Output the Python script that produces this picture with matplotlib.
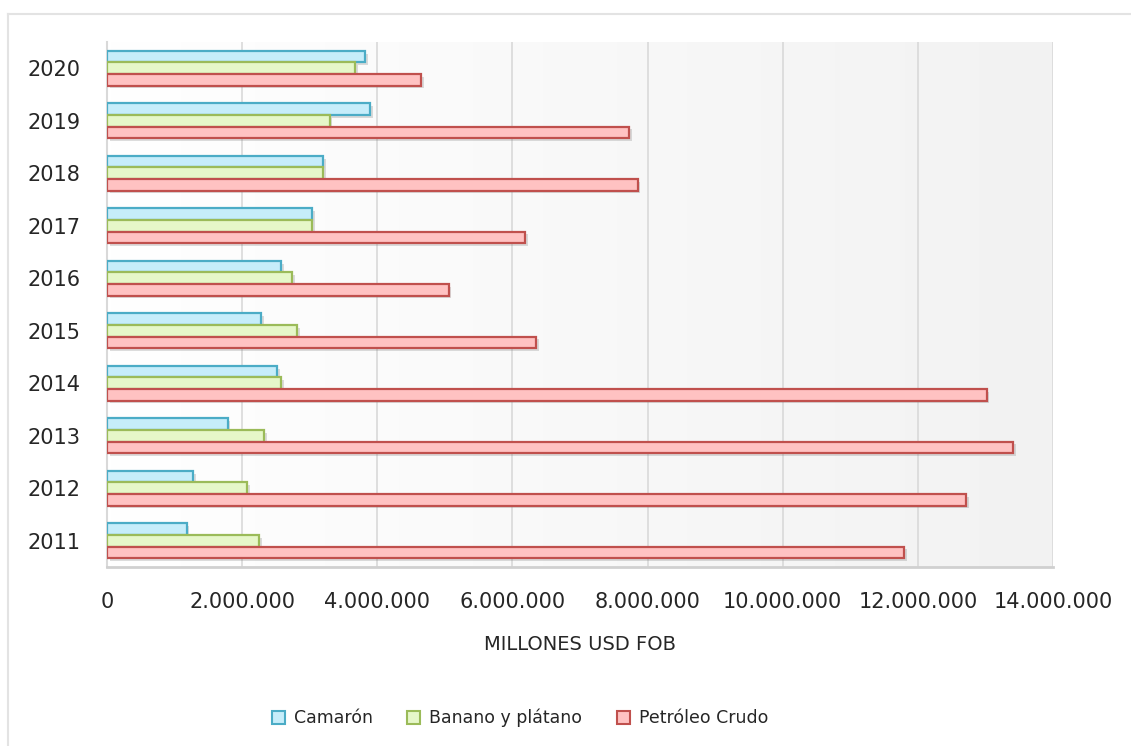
import numpy as np
import matplotlib.pyplot as plt
import matplotlib.patheffects as pe
from matplotlib.patches import Patch
from matplotlib.ticker import FuncFormatter

# datos (miles USD FOB)
years = ["2011", "2012", "2013", "2014", "2015", "2016", "2017", "2018", "2019", "2020"]
camaron = [1178000, 1278000, 1784000, 2513000, 2280000, 2580000, 3038000, 3200000, 3890000, 3824000]
banano = [2246000, 2078000, 2322000, 2577000, 2808000, 2734000, 3035000, 3195000, 3295000, 3669000]
petroleo = [11800000, 12711000, 13412000, 13016000, 6355000, 5054000, 6190000, 7853000, 7731000, 4651000]
xticks = [0, 2000000, 4000000, 6000000, 8000000, 10000000, 12000000, 14000000]

series = [
    ("Camarón", camaron, "#c6edfa", "#4bacc6"),
    ("Banano y plátano", banano, "#e6f7c9", "#9bbb59"),
    ("Petróleo Crudo", petroleo, "#ffc2c2", "#c0504d"),
]

fig = plt.figure(figsize=(11.31, 7.46), dpi=100)
ax = fig.add_axes([107 / 1131, 1 - 567 / 746, 946 / 1131, 525 / 746])

# fondo con degradado
grad = np.linspace(0, 1, 256).reshape(1, -1)
ax.imshow(grad, cmap=plt.matplotlib.colors.LinearSegmentedColormap.from_list("bg", ["#ffffff", "#f2f2f2"]),
          extent=[0, 1, 0, 1], transform=ax.transAxes, aspect="auto", zorder=0)

y = np.arange(len(years))
h = 0.22
offs = [h, 0, -h]
for (name, vals, fc, ec), off in zip(series, offs):
    ax.barh(y + off, vals, height=h, color=fc, edgecolor=ec, linewidth=1.6, zorder=3,
            path_effects=[pe.SimplePatchShadow(offset=(2, -2), alpha=0.25, shadow_rgbFace="#777777"), pe.Normal()])

ax.set_xlim(0, 14000000)
ax.set_ylim(-0.5, 9.5)
ax.set_yticks(y)
ax.set_yticklabels(years)
ax.set_xticks(xticks)
ax.xaxis.set_major_formatter(FuncFormatter(lambda v, p: f"{int(v):,}".replace(",", ".")))
ax.grid(axis="x", color="#d9d9d9", linewidth=1.2, zorder=1)
ax.set_axisbelow(True)
for s in ["top", "right"]:
    ax.spines[s].set_visible(False)
ax.spines["left"].set_color("#d9d9d9")
ax.spines["left"].set_linewidth(1.5)
ax.spines["bottom"].set_color("#d0d0d0")
ax.spines["bottom"].set_linewidth(2)
ax.tick_params(axis="both", length=0, labelsize=15, colors="#262626")
ax.tick_params(axis="y", pad=19)
ax.tick_params(axis="x", pad=18)

fig.text(580 / 1131, 1 - 644 / 746, "MILLONES USD FOB", ha="center", va="center", fontsize=14, color="#262626")

handles = [Patch(facecolor=fc, edgecolor=ec, linewidth=1.5, label=name) for name, _, fc, ec in series]
fig.legend(handles=handles, loc="center", bbox_to_anchor=(520 / 1131, 1 - 718 / 746), ncol=3, frameon=False,
           fontsize=12.5, handlelength=0.75, handleheight=0.75, handletextpad=0.5, columnspacing=2.0,
           labelcolor="#262626")

# borde exterior
fig.add_artist(plt.Line2D([8 / 1131, 1], [1 - 14 / 746] * 2, color="#e3e3e3", linewidth=1.5, transform=fig.transFigure))
fig.add_artist(plt.Line2D([8 / 1131] * 2, [1 - 14 / 746, 0], color="#e3e3e3", linewidth=1.5, transform=fig.transFigure))

fig.savefig("out.png", dpi=100)
